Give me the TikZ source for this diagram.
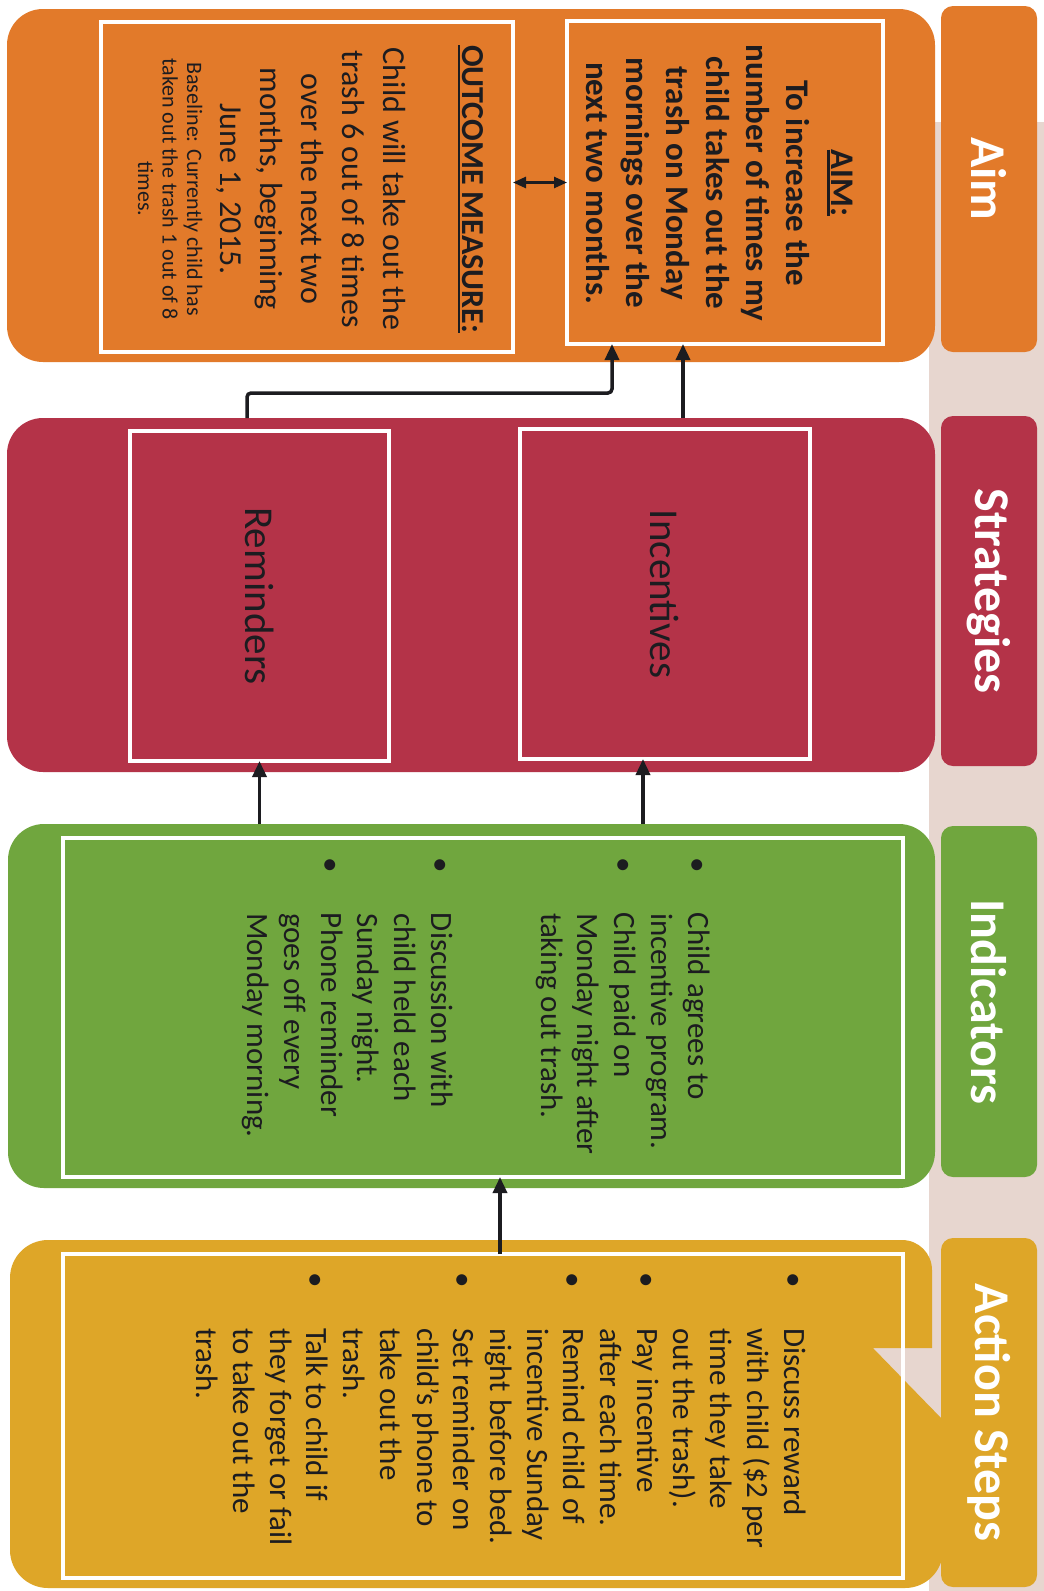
\documentclass[tikz,border=0pt]{standalone}
\usepackage{fontspec}
\setmainfont{Carlito}
\usetikzlibrary{arrows.meta}

\definecolor{aimcol}{RGB}{226,122,42}
\definecolor{stratcol}{RGB}{180,51,72}
\definecolor{indcol}{RGB}{112,166,62}
\definecolor{actcol}{RGB}{222,166,40}
\definecolor{bandcol}{RGB}{231,214,207}
\definecolor{ink}{RGB}{28,28,32}

% heavy underline for the box headings
\newcommand\thickul[1]{\setbox0=\hbox{#1}\rlap{\rule[-4.5pt]{\wd0}{2.5pt}}\box0}

\begin{document}
\begin{tikzpicture}[x=1pt,y=-1pt,
  outerbox/.style={rectangle, rounded corners=36pt, inner sep=0pt, outer sep=0pt},
  tabbox/.style={rectangle, rounded corners=12pt, inner sep=0pt, outer sep=0pt,
    minimum width=96pt, text=white, font=\fontsize{50}{58}\selectfont\bfseries},
  framebox/.style={rectangle, draw=white, line width=4.5pt, inner sep=0pt,
    outer sep=0pt, text=ink},
  arr/.style={line width=3.5pt, draw=ink, -{Triangle[length=16pt,width=14pt]}},
  dblarr/.style={line width=2.5pt, draw=ink,
    {Triangle[length=13pt,width=11pt]}-{Triangle[length=13pt,width=11pt]}},
  bodytext/.style={rotate=-90, inner sep=0pt, outer sep=0pt, text=ink},
]
\useasboundingbox (0,0) rectangle (1044,1591);
\fill[white] (0,0) rectangle (1044,1591);

% pale band behind the row headings, with the callout notch of the action panel
\fill[bandcol] (929,122) rectangle (1044,1591);
\fill[bandcol] (873,1348) -- (932,1348) -- (943,1420) -- cycle;

% row panels
\node[outerbox, fill=aimcol, minimum width=928pt, minimum height=353pt] (aimouter) at (471,185.5) {};
\node[outerbox, fill=stratcol, minimum width=928pt, minimum height=354pt] (stratouter) at (471,595) {};
\node[outerbox, fill=indcol, minimum width=927pt, minimum height=364pt] (indouter) at (471.5,1006) {};
% action panel with its callout notch
\fill[actcol] (48,1240) -- (902,1240) .. controls (918.6,1240) and (932,1253.4) .. (932,1270)
  -- (932,1348) -- (873,1348) -- (943,1420) -- (943,1550)
  .. controls (943,1571) and (926,1588) .. (905,1588) -- (48,1588)
  .. controls (27,1588) and (10,1571) .. (10,1550) -- (10,1278)
  .. controls (10,1257) and (27,1240) .. (48,1240) -- cycle;

% row headings
\node[tabbox, fill=aimcol, minimum height=346pt] (aimtab) at (989,179) {\rotatebox{-90}{Aim}};
\node[tabbox, fill=stratcol, minimum height=350pt] (strattab) at (989,591) {\rotatebox{-90}{Strategies}};
\node[tabbox, fill=indcol, minimum height=351pt] (indtab) at (989,1001.5) {\rotatebox{-90}{Indicators}};
\node[tabbox, fill=actcol, minimum height=349pt] (acttab) at (989,1412.5) {\rotatebox{-90}{Action Steps}};

% white frames
\node[framebox, minimum width=316pt, minimum height=323pt] (aimbox) at (725,182.5) {};
\node[framebox, minimum width=412pt, minimum height=330pt] (outbox) at (307,187) {};
\node[framebox, minimum width=259pt, minimum height=330pt, font=\fontsize{41}{48}\selectfont] (rem) at (259.5,596) {\rotatebox{-90}{Reminders}};
\node[framebox, minimum width=290pt, minimum height=330pt, font=\fontsize{41}{48}\selectfont] (inc) at (665,594) {\rotatebox{-90}{Incentives}};
\node[framebox, minimum width=840pt, minimum height=339pt] (indin) at (483,1007.5) {};
\node[framebox, minimum width=840pt, minimum height=324pt] (actin) at (483,1416) {};

% aim statement
\node[bodytext, anchor=base, font=\fontsize{33}{40}\selectfont\bfseries] (aimtext) at (831.5,183)
  {\begin{tabular}[t]{@{}c@{}}\thickul{AIM:}\\[5pt] To increase the\\ number of times my\\
   child takes out the\\ trash on Monday\\ mornings over the\\ next two months.\end{tabular}};

% outcome measure
\node[bodytext, anchor=base, font=\fontsize{32}{40}\selectfont\bfseries] (outhead) at (462,189)
  {\thickul{OUTCOME MEASURE:}};
\node[bodytext, anchor=base, font=\fontsize{32}{40.7}\selectfont] (outbody) at (383,189)
  {\begin{tabular}[t]{@{}c@{}}Child will take out the\\ trash 6 out of 8 times\\ over the next two\\
   months, beginning\\ June 1, 2015.\end{tabular}};
\node[bodytext, anchor=base, font=\fontsize{22}{24.5}\selectfont] (outbase) at (187,189)
  {\begin{tabular}[t]{@{}c@{}}Baseline: Currently child has\\ taken out the trash 1 out of 8\\ times.\end{tabular}};

% indicators
\node[bodytext, anchor=base west, font=\fontsize{31}{36.7}\selectfont] (indlist) at (688,857)
  {\begin{tabular}[t]{@{}p{56pt}@{}l@{}}
   \textbullet & Child agrees to\\
               & incentive program.\\
   \textbullet & Child paid on\\
               & Monday night after\\
               & taking out trash.\\
               & \\
               & \\
   \textbullet & Discussion with\\
               & child held each\\
               & Sunday night.\\
   \textbullet & Phone reminder\\
               & goes off every\\
               & Monday morning.
   \end{tabular}};

% action steps
\node[bodytext, anchor=base west, font=\fontsize{31}{36.7}\selectfont] (actlist) at (784,1272)
  {\begin{tabular}[t]{@{}p{56pt}@{}l@{}}
   \textbullet & Discuss reward\\
               & with child (\$2 per\\
               & time they take\\
               & out the trash).\\
   \textbullet & Pay incentive\\
               & after each time.\\
   \textbullet & Remind child of\\
               & incentive Sunday\\
               & night before bed.\\
   \textbullet & Set reminder on\\
               & child's phone to\\
               & take out the\\
               & trash.\\
   \textbullet & Talk to child if\\
               & they forget or fail\\
               & to take out the\\
               & trash.
   \end{tabular}};

% connectors
\coordinate (remtop) at (247,418);
\coordinate (elbow) at (612,393);
\coordinate (inctop) at (683,418);
\coordinate (incfoot) at (643,759);
\coordinate (actstart) at (500,1254);
\draw[arr, rounded corners=4pt] (remtop) |- (elbow) -- (elbow |- aimbox.south);
\draw[arr] (inctop) -- (inctop |- aimbox.south);
\draw[arr] (rem.south |- indouter.north) -- (rem.south);
\draw[arr] (incfoot |- indouter.north) -- (incfoot);
\draw[arr] (actstart) -- (actstart |- indin.south);
\draw[dblarr] (outbox.east |- aimbox.west) -- (aimbox.west);
\end{tikzpicture}
\end{document}
